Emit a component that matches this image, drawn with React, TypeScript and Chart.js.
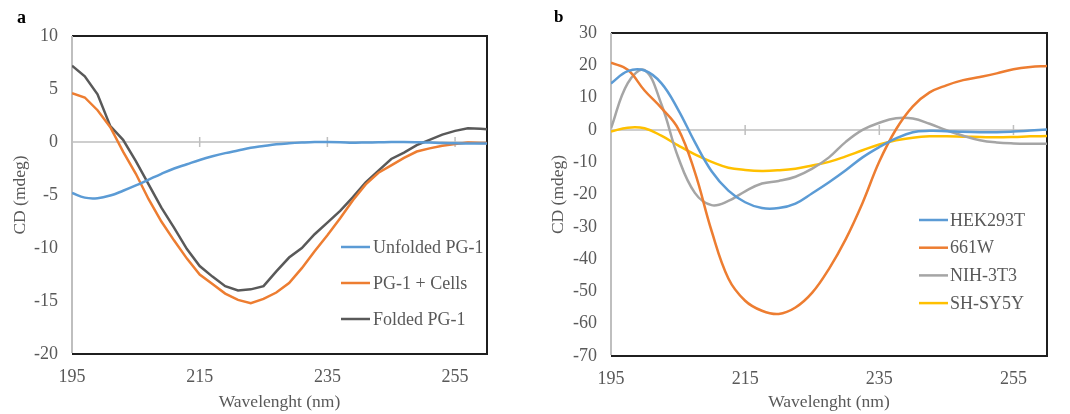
import React, { useEffect, useRef } from "react";
import { Chart, registerables } from "chart.js";

Chart.register(...registerables);

const FONT = '"Liberation Serif", "Times New Roman", serif';
const TEXT = "#595959";

// ---------- Panel a ----------
const wavelengthsA = [
  195, 197, 199, 201, 203, 205, 207, 209, 211, 213, 215, 217, 219, 221, 223, 225, 227,
  229, 231, 233, 235, 237, 239, 241, 243, 245, 247, 249, 251, 253, 255, 257, 259, 260,
];
const unfoldedPG1 = [
  -4.8, -5.25, -5.3, -5.05, -4.6, -4.1, -3.55, -3.0, -2.5, -2.1, -1.7, -1.35, -1.05, -0.8,
  -0.55, -0.38, -0.22, -0.12, -0.05, 0, 0, -0.02, -0.06, -0.05, -0.03, 0, 0, -0.02, -0.05,
  -0.1, -0.12, -0.15, -0.15, -0.15,
];
const pg1Cells = [
  4.6, 4.2, 3.0, 1.4, -0.9, -3.0, -5.4, -7.5, -9.3, -11.0, -12.5, -13.4, -14.3, -14.9,
  -15.2, -14.8, -14.2, -13.3, -11.9, -10.3, -8.8, -7.2, -5.5, -4.0, -2.9, -2.2, -1.5, -0.9,
  -0.6, -0.35, -0.2, -0.05, -0.1, -0.1,
];
const foldedPG1 = [
  7.2, 6.2, 4.5, 1.5, 0.2, -1.8, -4.0, -6.2, -8.1, -10.1, -11.7, -12.7, -13.6, -14.0,
  -13.9, -13.6, -12.2, -10.9, -10.0, -8.7, -7.6, -6.5, -5.2, -3.8, -2.7, -1.6, -1.0, -0.3,
  0.2, 0.7, 1.05, 1.3, 1.25, 1.2,
];

// ---------- Panel b ----------
const wavelengthsB = [
  195, 197.5, 200, 202.5, 205, 207.5, 210, 212.5, 215, 217.5, 220, 222.5, 225, 227.5, 230,
  232.5, 235, 237.5, 240, 242.5, 245, 247.5, 250, 252.5, 255, 257.5, 260,
];
const hek293t = [
  14.4, 18.2, 18.4, 14.5, 6.3, -3.8, -12.8, -18.8, -22.4, -24.2, -24.2, -22.8, -19.6, -16.2,
  -12.5, -8.5, -5.3, -2.6, -0.7, -0.3, -0.4, -0.6, -0.7, -0.7, -0.5, -0.2, 0.1,
];
const w661 = [
  20.8, 18.6, 12.2, 6.8, 0.4, -13.1, -31.3, -46.0, -52.9, -56.0, -57.0, -55.0, -50.4, -43.0,
  -33.8, -22.6, -9.8, 0.2, 7.3, 11.6, 13.8, 15.4, 16.4, 17.5, 18.8, 19.5, 19.8,
];
const nih3t3 = [
  0.5, 14.5, 18.5, 8.0, -8.4, -19.5, -23.3, -22.0, -19.0, -16.6, -15.8, -14.5, -12.0, -8.5,
  -3.7, 0, 2.2, 3.6, 3.5, 1.9, -0.1, -1.8, -3.2, -3.9, -4.2, -4.3, -4.3,
];
const shsy5y = [
  -0.5, 0.7, 0.5, -1.8, -4.8, -7.6, -9.9, -11.7, -12.4, -12.7, -12.5, -12.0, -11.0, -9.9,
  -8.2, -6.3, -4.5, -3.2, -2.4, -2.0, -2.0, -2.1, -2.2, -2.3, -2.2, -2.0, -1.9,
];

const xTickValues = [195, 215, 235, 255];
const xTitle = "Wavelenght (nm)";
const yTitle = "CD (mdeg)";

type PanelCfg = {
  letter: string;
  letterX: number;
  letterY: number;
  letterSize: number;
  yMin: number;
  yMax: number;
  yStep: number;
  yWidth: number;
  yTitlePad: number;
  padTop: number;
  padRight: number;
  xHeight: number;
  legendX0: number;
  legendX1: number;
  legendTextX: number;
  legendY0: number;
  legendDy: number;
  datasets: { label: string; xs: number[]; ys: number[]; color: string; tension: number }[];
};

function makeDecor(cfg: PanelCfg) {
  return {
    id: "decor",
    beforeDatasetsDraw(chart: any) {
      const { ctx, chartArea, scales } = chart;
      const { left, right, top, bottom } = chartArea;
      const x = scales.x;
      const y = scales.y;
      ctx.save();
      const y0 = y.getPixelForValue(0);
      ctx.strokeStyle = "#bfbfbf";
      ctx.lineWidth = 1.5;
      ctx.beginPath();
      ctx.moveTo(left, y0);
      ctx.lineTo(right, y0);
      for (const t of xTickValues) {
        if (t === x.min) continue;
        const px = x.getPixelForValue(t);
        ctx.moveTo(px, y0 - 5);
        ctx.lineTo(px, y0 + 5);
      }
      ctx.stroke();
      ctx.strokeStyle = "#1f1f1f";
      ctx.lineWidth = 2;
      ctx.beginPath();
      ctx.moveTo(left, top);
      ctx.lineTo(right, top);
      ctx.lineTo(right, bottom);
      ctx.lineTo(left, bottom);
      ctx.stroke();
      ctx.strokeStyle = "#bfbfbf";
      ctx.beginPath();
      ctx.moveTo(left, top);
      ctx.lineTo(left, bottom - 1);
      ctx.stroke();
      ctx.restore();
    },
    afterDraw(chart: any) {
      const { ctx } = chart;
      ctx.save();
      chart.data.datasets.forEach((ds: any, i: number) => {
        const yy = cfg.legendY0 + i * cfg.legendDy;
        ctx.strokeStyle = ds.borderColor;
        ctx.lineWidth = 2.5;
        ctx.beginPath();
        ctx.moveTo(cfg.legendX0, yy);
        ctx.lineTo(cfg.legendX1, yy);
        ctx.stroke();
        ctx.fillStyle = TEXT;
        ctx.font = `18px ${FONT}`;
        ctx.textBaseline = "middle";
        ctx.textAlign = "left";
        ctx.fillText(ds.label, cfg.legendTextX, yy + 1);
      });
      ctx.fillStyle = "#000";
      ctx.font = `bold ${cfg.letterSize}px ${FONT}`;
      ctx.textBaseline = "alphabetic";
      ctx.fillText(cfg.letter, cfg.letterX, cfg.letterY);
      ctx.restore();
    },
  };
}

function Panel({ cfg, left }: { cfg: PanelCfg; left: number }) {
  const ref = useRef<HTMLCanvasElement | null>(null);
  useEffect(() => {
    if (!ref.current) return;
    const chart = new Chart(ref.current, {
      type: "line",
      data: {
        datasets: cfg.datasets.map((d) => ({
          label: d.label,
          data: d.xs.map((xv, i) => ({ x: xv, y: d.ys[i] })),
          borderColor: d.color,
          backgroundColor: d.color,
          borderWidth: 2.5,
          pointRadius: 0,
          tension: d.tension,
          fill: false,
        })),
      },
      options: {
        animation: false,
        responsive: false,
        events: [],
        layout: { padding: { left: 0, top: cfg.padTop, right: cfg.padRight, bottom: 0 } },
        plugins: { legend: { display: false }, tooltip: { enabled: false } },
        scales: {
          x: {
            type: "linear",
            min: 195,
            max: 260,
            afterBuildTicks: (s: any) => {
              s.ticks = xTickValues.map((v) => ({ value: v }));
            },
            afterFit: (s: any) => {
              s.height = cfg.xHeight;
            },
            grid: { display: false, drawTicks: false },
            border: { display: false },
            ticks: {
              color: TEXT,
              font: { family: FONT, size: 18 },
              padding: 12,
              maxRotation: 0,
              autoSkip: false,
            },
            title: {
              display: true,
              text: xTitle,
              color: TEXT,
              font: { family: FONT, size: 17.5 },
              padding: { top: 0, bottom: 1.5 },
            },
          },
          y: {
            type: "linear",
            min: cfg.yMin,
            max: cfg.yMax,
            afterFit: (s: any) => {
              s.width = cfg.yWidth;
            },
            grid: { display: false, drawTicks: false },
            border: { display: false },
            ticks: {
              stepSize: cfg.yStep,
              color: TEXT,
              font: { family: FONT, size: 18 },
              padding: 14,
            },
            title: {
              display: true,
              text: yTitle,
              color: TEXT,
              font: { family: FONT, size: 17.5 },
              padding: { top: cfg.yTitlePad, bottom: 0 },
            },
          },
        },
      },
      plugins: [makeDecor(cfg)],
    });
    return () => chart.destroy();
  }, [cfg]);
  return (
    <canvas
      ref={ref}
      width={535}
      height={414}
      style={{ position: "absolute", left, top: 0, width: 535, height: 414, display: "block" }}
    />
  );
}

const cfgA: PanelCfg = {
  letter: "a",
  letterX: 17,
  letterY: 23,
  letterSize: 18,
  yMin: -20,
  yMax: 10,
  yStep: 5,
  yWidth: 72,
  yTitlePad: 10,
  padTop: 36,
  padRight: 48,
  xHeight: 60,
  legendX0: 341,
  legendX1: 370,
  legendTextX: 373,
  legendY0: 247,
  legendDy: 36,
  datasets: [
    { label: "Unfolded PG-1", xs: wavelengthsA, ys: unfoldedPG1, color: "#5B9BD5", tension: 0.4 },
    { label: "PG-1 + Cells", xs: wavelengthsA, ys: pg1Cells, color: "#ED7D31", tension: 0 },
    { label: "Folded PG-1", xs: wavelengthsA, ys: foldedPG1, color: "#595959", tension: 0 },
  ],
};

const cfgB: PanelCfg = {
  letter: "b",
  letterX: 19,
  letterY: 22,
  letterSize: 17,
  yMin: -70,
  yMax: 30,
  yStep: 10,
  yWidth: 76,
  yTitlePad: 12.5,
  padTop: 33,
  padRight: 23,
  xHeight: 58,
  legendX0: 384,
  legendX1: 413,
  legendTextX: 415,
  legendY0: 220,
  legendDy: 27.7,
  datasets: [
    { label: "HEK293T", xs: wavelengthsB, ys: hek293t, color: "#5B9BD5", tension: 0.4 },
    { label: "661W", xs: wavelengthsB, ys: w661, color: "#ED7D31", tension: 0.4 },
    { label: "NIH-3T3", xs: wavelengthsB, ys: nih3t3, color: "#A5A5A5", tension: 0.4 },
    { label: "SH-SY5Y", xs: wavelengthsB, ys: shsy5y, color: "#FFC000", tension: 0.4 },
  ],
};

export default function App() {
  return (
    <div
      style={{
        position: "absolute",
        left: 0,
        top: 0,
        width: 1070,
        height: 414,
        background: "#fff",
      }}
    >
      <Panel cfg={cfgA} left={0} />
      <Panel cfg={cfgB} left={535} />
    </div>
  );
}
